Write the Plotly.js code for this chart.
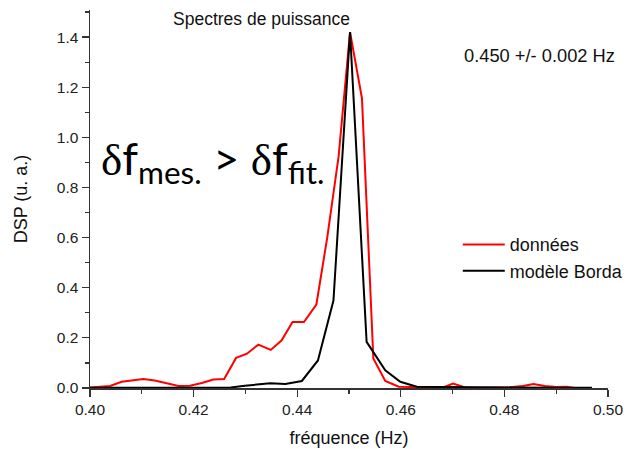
<!DOCTYPE html>
<html>
<head>
<meta charset="utf-8">
<script src="https://cdn.plot.ly/plotly-3.0.1.min.js"></script>
<style>html,body{margin:0;padding:0;background:#fff;}#chart{width:629px;height:449px;}</style>
</head>
<body>
<div id="chart"></div>
<script>
// Measured spectrum ("données")
var freqData = [0.4000, 0.4039, 0.4061, 0.4103, 0.4125, 0.4147, 0.4171, 0.4193, 0.4216, 0.4238, 0.4259,
  0.4282, 0.4303, 0.4325, 0.4349, 0.4370, 0.4391, 0.4413, 0.4437, 0.4458, 0.4480, 0.4502, 0.4525,
  0.4547, 0.4570, 0.4596, 0.4618, 0.4640, 0.4662, 0.4684, 0.4701, 0.4724, 0.4750, 0.4780, 0.4810,
  0.4836, 0.4856, 0.4878, 0.4900, 0.4920, 0.4936];
var dspData = [0.002, 0.008, 0.025, 0.036, 0.030, 0.020, 0.008, 0.009, 0.020, 0.034, 0.036,
  0.120, 0.137, 0.173, 0.152, 0.190, 0.263, 0.263, 0.333, 0.600, 0.925, 1.420, 1.156,
  0.118, 0.028, 0.005, 0.003, 0.003, 0.003, 0.004, 0.018, 0.002, 0.001, 0.002, 0.003,
  0.008, 0.016, 0.008, 0.004, 0.005, 0.000];

// Borda model
var freqModel = [0.4000, 0.4100, 0.4200, 0.4272, 0.4299, 0.4325, 0.4348, 0.4377, 0.4409, 0.4440,
  0.4470, 0.4502, 0.4534, 0.4570, 0.4599, 0.4631, 0.4700, 0.4800, 0.4900, 0.4969];
var dspModel = [0.001, 0.001, 0.001, 0.002, 0.009, 0.015, 0.019, 0.016, 0.028, 0.110,
  0.349, 1.420, 0.184, 0.071, 0.025, 0.005, 0.003, 0.002, 0.001, 0.001];

var seriesNames = ["données", "modèle Borda"];
var xTickVals = [0.40, 0.42, 0.44, 0.46, 0.48, 0.50];
var yTickVals = [0.0, 0.2, 0.4, 0.6, 0.8, 1.0, 1.2, 1.4];

var font = "Liberation Sans, Arial, sans-serif";

var traces = [
  {x: freqData, y: dspData, name: seriesNames[0], type: "scatter", mode: "lines",
   line: {color: "#ff0000", width: 2}},
  {x: freqModel, y: dspModel, name: seriesNames[1], type: "scatter", mode: "lines",
   line: {color: "#000000", width: 2}}
];

var axisCommon = {
  showgrid: false, zeroline: false, showline: true, linecolor: "#333", linewidth: 1.5,
  ticks: "outside", ticklen: 7, tickwidth: 1.2, tickcolor: "#333",
  tickfont: {family: font, size: 15.5, color: "#222"}, automargin: false
};

var layout = {
  width: 629, height: 449,
  margin: {l: 90, r: 21, t: 10, b: 61, autoexpand: false},
  paper_bgcolor: "#fff", plot_bgcolor: "#fff",
  font: {family: font, color: "#111"},
  showlegend: true,
  legend: {x: 0.71, y: 0.428, xanchor: "left", yanchor: "top", bgcolor: "rgba(0,0,0,0)",
    itemwidth: 42,
    font: {family: font, size: 18, color: "#111"}, tracegroupgap: 0},
  xaxis: Object.assign({}, axisCommon, {
    range: [0.40, 0.50], tickvals: xTickVals, tickformat: ".2f",
    minor: {dtick: 0.01, ticks: "outside", ticklen: 4, tickcolor: "#333"},
    title: {text: "fréquence (Hz)", font: {family: font, size: 18, color: "#111"}, standoff: 14}
  }),
  yaxis: Object.assign({}, axisCommon, {
    range: [0, 1.508], tickvals: yTickVals, tickformat: ".1f",
    minor: {dtick: 0.1, ticks: "outside", ticklen: 4, tickcolor: "#333"},
    title: {text: "DSP (u. a.)", font: {family: font, size: 18, color: "#111"}, standoff: 24}
  }),
  annotations: [
    {xref: "paper", yref: "paper", x: 0.331, y: 0.975, xanchor: "center", yanchor: "middle",
     text: "Spectres de puissance", showarrow: false, font: {family: font, size: 17.5, color: "#111"}},
    {xref: "paper", yref: "paper", x: 1.017, y: 0.879, xanchor: "right", yanchor: "middle",
     text: "0.450 +/- 0.002 Hz", showarrow: false, font: {family: font, size: 18.3, color: "#111"}},
    {xref: "paper", yref: "paper", x: 0.018, y: 0.60, xanchor: "left", yanchor: "middle",
     text: "<span style=\"font-family:Liberation Serif\">δ</span>f<sub>mes.</sub> > <span style=\"font-family:Liberation Serif\">δ</span>f<sub>fit.</sub>",
     showarrow: false,
     font: {family: "Lato, Open Sans, sans-serif", size: 45, color: "#000"}}
  ]
};

Plotly.newPlot("chart", traces, layout, {displayModeBar: false, staticPlot: true});
</script>
</body>
</html>
